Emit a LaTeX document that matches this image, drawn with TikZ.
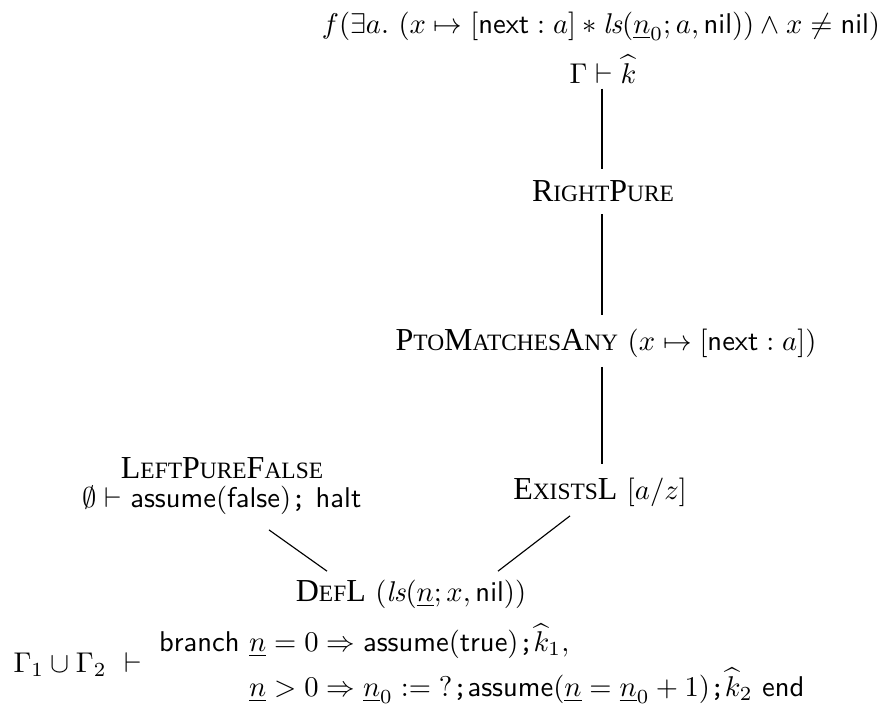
\documentclass[tikz,border=0pt]{standalone}
\usepackage{amsmath,amssymb}
\usepackage{fontspec}
\newfontfamily\tms{Liberation Serif}
\newcommand{\rn}[1]{{\tms\fontsize{11.2pt}{13pt}\selectfont #1}}
\newcommand{\sm}[1]{{\fontsize{8.2pt}{9pt}\selectfont #1}}
\newcommand{\sfm}[1]{\mathsf{#1}}
\newcommand{\ul}[1]{\underline{#1}}
\newcommand{\scol}{\texttt{;}}
\begin{document}
\begin{tikzpicture}[x=0.35pt,y=-0.35pt,
  lbl/.style={inner sep=0pt, font=\normalsize},
  edge/.style={draw, line width=0.4pt}]
\useasboundingbox (0,0) rectangle (888,706);
\node[lbl] (top) at (601,26) {$f(\exists a.\ (x \mapsto [\sfm{next} : a] * \mathit{ls}(\ul{n}_0; a, \sfm{nil})) \wedge x \neq \sfm{nil})$};
\node[lbl] (gam) at (603,69) {$\Gamma \vdash \widehat{k}$};
\node[lbl] (rp) at (603,191) {\rn{R\sm{IGHT}P\sm{URE}}};
\node[lbl] (pto) at (606,343) {\rn{P\sm{TO}M\sm{ATCHES}A\sm{NY}}~$(x \mapsto [\sfm{next} : a])$};
\node[lbl] (ex) at (600,492) {\rn{E\sm{XISTS}L}~$[a/z]$};
\node[lbl, align=center] (lpf) at (222,486) {\rn{L\sm{EFT}P\sm{URE}F\sm{ALSE}}\\[-2pt]$\emptyset \vdash \sfm{assume}(\sfm{false})\scol\ \sfm{halt}$};
\node[lbl] (defl) at (411,594) {\rn{D\sm{EF}L}~$(\mathit{ls}(\ul{n}; x, \sfm{nil}))$};
\node[lbl, anchor=west] (bot) at (13,665) {$\Gamma_1 \cup \Gamma_2\ \vdash\ 
  \renewcommand{\arraystretch}{1.3}\begin{array}{@{}l@{}l@{}}
  \sfm{branch}\ & \ul{n} = 0 \Rightarrow \sfm{assume}(\sfm{true})\scol \widehat{k}_1,\\
  & \ul{n} > 0 \Rightarrow \ul{n}_0 := {?}\scol \sfm{assume}(\ul{n} = \ul{n}_0 + 1)\scol \widehat{k}_2\ \sfm{end}
  \end{array}$};
\draw[edge] ([shift={(-1,5)}]gam.south) -- ([shift={(-1,-11)}]rp.north);
\draw[edge] ([shift={(-1,12)}]rp.south) -- ([shift={(-1,-13)}]rp.south |- pto.north);
\draw[edge] ([shift={(-1,9)}]rp.south |- pto.south) -- ([shift={(-1,-13)}]rp.south |- ex.north);
\draw[edge] ([shift={(47,15)}]lpf.south) -- ([shift={(-84,-8)}]defl.north);
\draw[edge] ([shift={(-30,9)}]ex.south) -- ([shift={(87,-8)}]defl.north);
\end{tikzpicture}
\end{document}
